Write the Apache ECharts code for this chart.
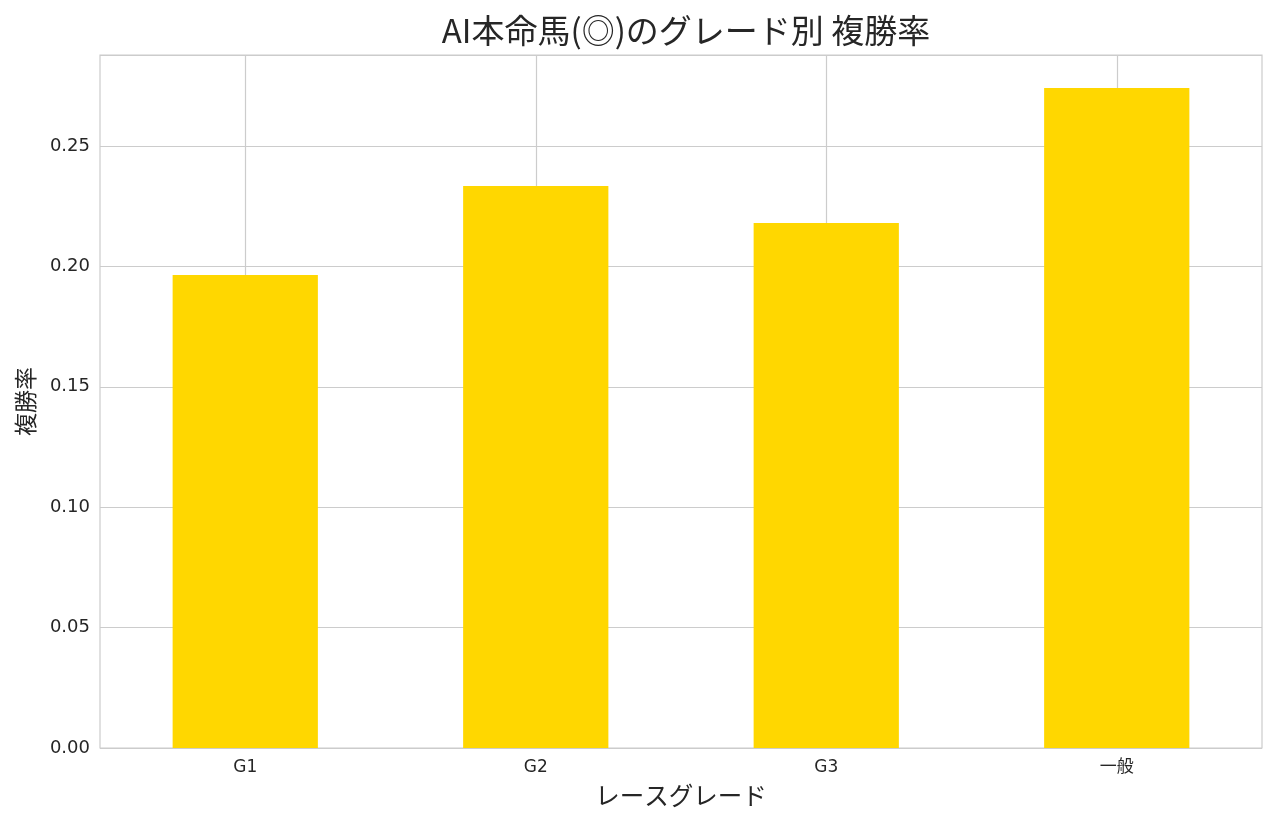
<!DOCTYPE html>
<html><head><meta charset="utf-8">
<script src="https://cdn.jsdelivr.net/npm/echarts@6/dist/echarts.min.js"></script>
<style>html,body{margin:0;padding:0;background:#fff}#c{width:1277px;height:823px}</style>
</head><body><div id="c"></div>
<script>
const categories = ['G1', 'G2', 'G3', '一般'];
const placeRate = [0.1964, 0.2334, 0.2180, 0.2741];
const yTicks = [0, 0.05, 0.10, 0.15, 0.20, 0.25];

const font = '"DejaVu Sans", "Noto Sans CJK JP", sans-serif';
const cjk = '"Noto Sans CJK JP", "DejaVu Sans", sans-serif';
const chart = echarts.init(document.getElementById('c'));
chart.setOption({
  animation: false,
  backgroundColor: '#fff',
  title: {
    text: 'AI本命馬(◎)のグレード別 複勝率',
    left: 681, top: 9, textAlign: 'center',
    textStyle: { fontFamily: cjk, fontSize: 33, fontWeight: 'normal', color: '#262626' }
  },
  grid: { left: 100, right: 15, top: 55, bottom: 75, show: true, borderColor: '#cccccc', borderWidth: 1.2, outerBoundsMode: 'none' },
  xAxis: {
    type: 'category', data: categories,
    name: 'レースグレード', nameLocation: 'middle', nameGap: 35,
    nameTextStyle: { fontFamily: cjk, fontSize: 24.5, color: '#262626' },
    axisLine: { show: false }, axisTick: { show: false },
    axisLabel: { fontFamily: font, fontSize: 17, color: '#262626', margin: 11 },
    splitLine: { show: true, alignWithLabel: true, lineStyle: { color: '#cccccc', width: 1.2 } }
  },
  yAxis: {
    type: 'value', min: 0, max: 0.2878, interval: 0.05,
    name: '複勝率', nameLocation: 'middle', nameGap: 63, nameRotate: 90,
    nameTextStyle: { fontFamily: cjk, fontSize: 23, color: '#262626' },
    axisLine: { show: false }, axisTick: { show: false },
    axisLabel: {
      fontFamily: font, fontSize: 18, color: '#262626', margin: 10, padding: [4, 0, 0, 0],
      formatter: v => yTicks.some(t => Math.abs(t - v) < 1e-9) ? v.toFixed(2) : ''
    },
    splitLine: { show: true, lineStyle: { color: '#cccccc', width: 1.2 } }
  },
  series: [{
    type: 'bar', data: placeRate, barWidth: '50%',
    itemStyle: { color: '#FFD700' }
  }]
});
</script></body></html>
